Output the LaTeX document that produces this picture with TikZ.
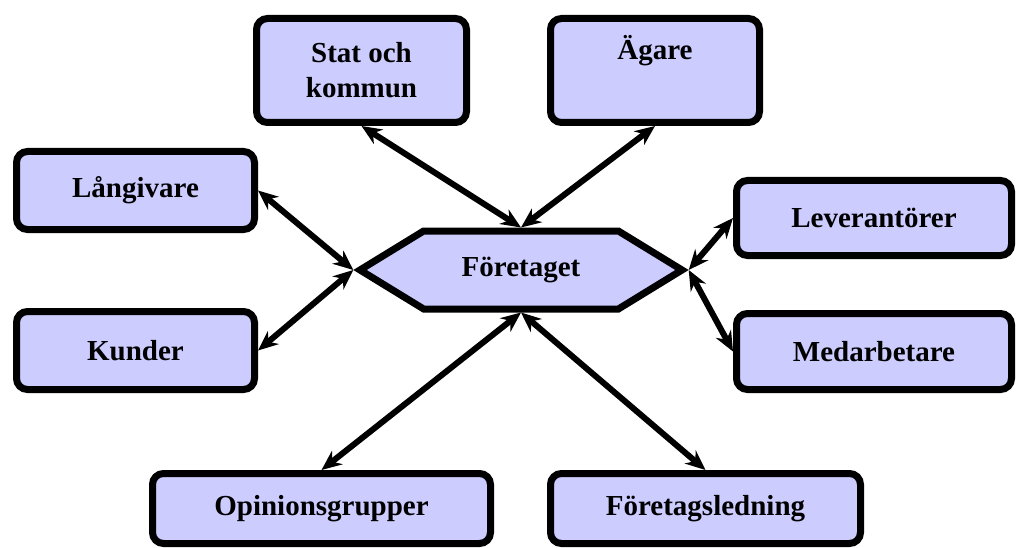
\documentclass[tikz,border=0pt]{standalone}
\usepackage{fontspec}
\setmainfont{Liberation Serif}
\usetikzlibrary{arrows.meta,shapes.symbols}
\definecolor{boxfill}{RGB}{204,204,255}

\begin{document}
\begin{tikzpicture}
        [x=1pt,y=-1pt,
        boxdecorate/.style={shape=rectangle,rounded corners=11pt,draw,line width=7pt,fill=boxfill,%
          align=center,font=\fontsize{29}{35}\selectfont\bfseries},%
        hexdecorate/.style={shape=signal,signal to=east and west,signal pointer angle=63,draw,line width=7pt,%
          fill=boxfill,minimum width=322pt,minimum height=78pt,font=\fontsize{29}{35}\selectfont\bfseries},%
        arrowdecorate/.style={<->,>={Stealth[length=20pt,width=17pt]},line width=6pt}]
        \useasboundingbox (0,0) rectangle (1019,548);
        %% nodes or vertices
        \node (foretaget) at (521,270) [hexdecorate] {Företaget};
        \foreach \nodename/\x/\y/\w/\h/\boxlabel in {stat/361.5/70.5/210/104/{Stat och\\kommun},
          agare/655/70.5/209/104/{Ägare\\\strut}, langivare/135.5/190.5/238/78/Långivare,
          kunder/135.5/350.5/238/78/Kunder, leverantorer/874/218/275/75/Leverantörer,
          medarbetare/874/351.5/275/76/Medarbetare, opinion/321.5/508.5/338/70/Opinionsgrupper,
          ledning/705.5/508.5/310/70/Företagsledning}
        {
          \node (\nodename) at (\x,\y) [boxdecorate,minimum width=\w pt,minimum height=\h pt] {\boxlabel};
        }
        %% edges or lines
        \path
        \foreach \startnode/\endnode in {stat.south/foretaget.north,
          agare.south/foretaget.north, langivare.east/foretaget.west, kunder.east/foretaget.west,
          leverantorer.west/foretaget.east, medarbetare.west/foretaget.east,
          opinion.north/foretaget.south, ledning.north/foretaget.south}
        {
          (\startnode) edge[arrowdecorate] (\endnode)
        };
      \end{tikzpicture}
\end{document}
